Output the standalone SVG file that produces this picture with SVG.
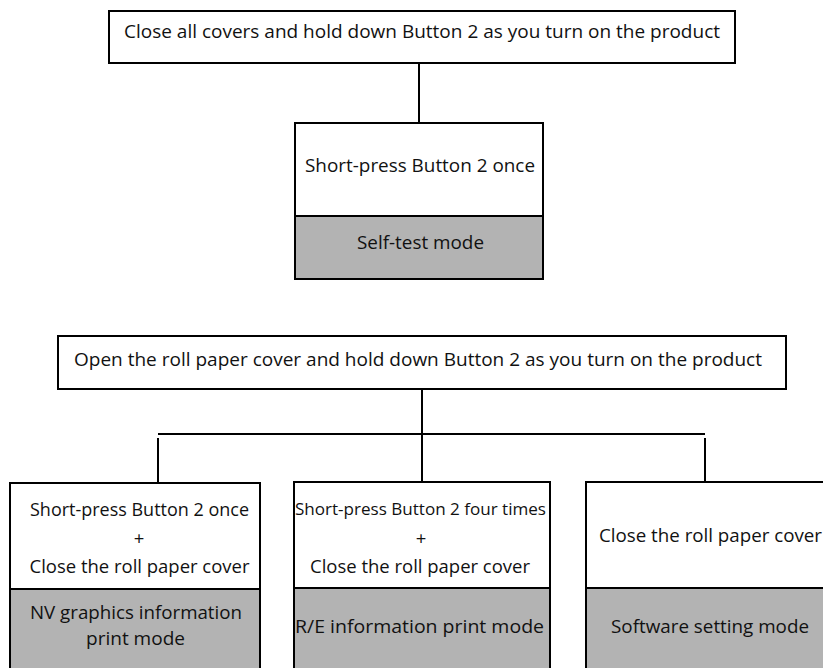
<svg xmlns="http://www.w3.org/2000/svg" width="823" height="668" viewBox="0 0 823 668">
<style>
.box{fill:#ffffff;stroke:#000000;stroke-width:2}
.mode{fill:#b3b3b3;stroke:#000000;stroke-width:2}
.line{stroke:#000000;stroke-width:2;fill:none}
text{font-family:"Open Sans","Noto Sans","Liberation Sans",sans-serif;font-size:18.5px;fill:#111111;text-anchor:middle}
.small{font-size:16.5px}
</style>
<rect width="823" height="668" fill="#ffffff"/>
<g id="connectors">
<line class="line" x1="419" y1="63" x2="419" y2="123"/>
<line class="line" x1="422" y1="389" x2="422" y2="482"/>
<line class="line" x1="158" y1="434" x2="705" y2="434"/>
<line class="line" x1="158" y1="438" x2="158" y2="482"/>
<line class="line" x1="705" y1="438" x2="705" y2="482"/>
</g>
<g id="start1">
<rect class="box" x="109" y="11" width="626" height="52"/>
<text x="422" y="38" font-size="19" textLength="596" lengthAdjust="spacingAndGlyphs">Close all covers and hold down Button 2 as you turn on the product</text>
</g>
<g id="selftest">
<rect class="box" x="295" y="123" width="248" height="93"/>
<rect class="mode" x="295" y="216" width="248" height="63"/>
<text x="420" y="172" textLength="230" lengthAdjust="spacingAndGlyphs">Short-press Button 2 once</text>
<text x="420.5" y="249" textLength="127" lengthAdjust="spacingAndGlyphs">Self-test mode</text>
</g>
<g id="start2">
<rect class="box" x="58" y="336" width="728" height="53"/>
<text x="418" y="366" textLength="688" lengthAdjust="spacingAndGlyphs">Open the roll paper cover and hold down Button 2 as you turn on the product</text>
</g>
<g id="nvgraphics">
<rect class="box" x="10" y="483" width="250" height="106"/>
<rect class="mode" x="10" y="589" width="250" height="90"/>
<text x="139.5" y="516" textLength="219" lengthAdjust="spacingAndGlyphs">Short-press Button 2 once</text>
<text x="139" y="545">+</text>
<text x="139.5" y="573" textLength="220" lengthAdjust="spacingAndGlyphs">Close the roll paper cover</text>
<text x="136" y="619" textLength="212" lengthAdjust="spacingAndGlyphs">NV graphics information</text>
<text x="135.5" y="645" textLength="99" lengthAdjust="spacingAndGlyphs">print mode</text>
</g>
<g id="reinfo">
<rect class="box" x="294" y="482" width="256" height="106"/>
<rect class="mode" x="294" y="588" width="256" height="91"/>
<text class="small" x="420.5" y="515" textLength="251" lengthAdjust="spacingAndGlyphs">Short-press Button 2 four times</text>
<text x="421" y="545">+</text>
<text x="420" y="573" textLength="220" lengthAdjust="spacingAndGlyphs">Close the roll paper cover</text>
<text x="419.5" y="633" textLength="249" lengthAdjust="spacingAndGlyphs">R/E information print mode</text>
</g>
<g id="software">
<rect class="box" x="586" y="482" width="254" height="106"/>
<rect class="mode" x="586" y="588" width="254" height="91"/>
<text x="710.5" y="542" textLength="223" lengthAdjust="spacingAndGlyphs">Close the roll paper cover</text>
<text x="710" y="633" textLength="198" lengthAdjust="spacingAndGlyphs">Software setting mode</text>
</g>
</svg>
